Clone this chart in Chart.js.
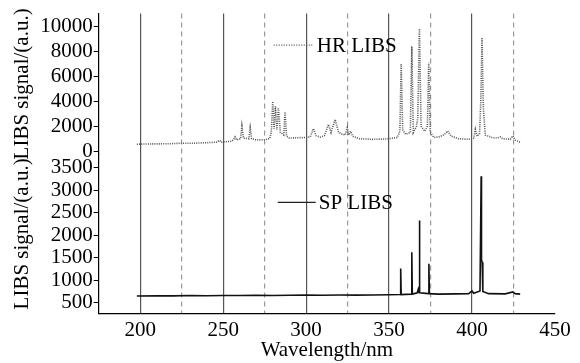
<!DOCTYPE html>
<html>
<head>
<meta charset="utf-8">
<script src="https://cdn.jsdelivr.net/npm/chart.js@4"></script>
<style>
  body { margin: 0; background: #fff; }
  #wrap { width: 580px; height: 363px; }
</style>
</head>
<body>
<div id="wrap"><canvas id="canvas1" width="580" height="363"></canvas></div>
<script>
// HR LIBS spectrum (top panel), wavelength nm / signal a.u.
const hrWave = [198, 205, 212, 218, 224, 232, 240, 246, 247.7, 249, 255, 256.3, 257.2, 258.2, 260.5, 261.3, 262.2, 265.5, 266.3, 267.2,
  270, 275, 278, 279, 279.9, 280.7, 281.5, 282.4, 283.3, 284.5, 286.5, 287.3, 288.2, 290, 295, 300, 302.5, 304.4, 306, 308.5,
  311, 313.5, 315, 317.5, 319.5, 321, 323.5, 324.8, 325.6, 326.8, 328, 332, 340, 348, 350, 355, 356.5, 357.3, 358.2, 360,
  362.8, 363.7, 364.6, 366.5, 367.3, 368.3, 369.3, 371.5, 373.1, 373.9, 374.8, 377, 380, 383, 385.3, 387.5, 392, 398, 401, 402,
  403, 404.5, 405.3, 406, 406.8, 408, 412, 415, 417, 418.5, 423, 424.6, 426, 429];
const hrSignal = [560, 580, 590, 600, 640, 640, 680, 720, 870, 730, 800, 900, 1140, 900, 1000, 2010, 1050, 1000, 1880, 1000,
  900, 920, 1000, 1500, 3990, 1800, 3600, 1700, 3460, 1500, 1300, 3150, 1200, 1050, 1080, 1100, 1150, 1800, 1250, 1130,
  1250, 2140, 1500, 2540, 1550, 1400, 1300, 1880, 1300, 1600, 1200, 1000, 950, 980, 1000, 1100, 1600, 6990, 1700, 1350,
  1500, 8400, 1500, 2000, 2700, 9820, 2000, 1600, 2000, 7090, 1500, 1100, 1150, 1300, 1610, 1200, 1000, 950, 1050, 1750,
  1200, 1400, 4000, 9100, 3500, 1300, 1100, 1050, 1150, 1000, 950, 1220, 900, 710];

// SP LIBS spectrum (bottom panel)
const spWave = [198, 210, 220, 230, 240, 250, 260, 270, 280, 290, 300, 310, 320, 330, 340, 350, 356.7, 357, 357.3, 363.4,
  363.7, 364, 367, 367.6, 368.1, 368.3, 368.5, 373.7, 374, 374.3, 380, 390, 398, 400, 401, 404.8, 405.5, 405.7, 406.1, 406.5,
  410, 420, 424.6, 426, 429];
const spSignal = [647, 655, 650, 660, 655, 660, 658, 662, 660, 665, 668, 665, 670, 668, 672, 675, 680, 1257, 680, 690,
  1618, 690, 720, 800, 720, 2324, 720, 700, 1367, 700, 690, 695, 700, 760, 710, 760, 3308, 1455, 1400, 750,
  700, 695, 740, 700, 690];

const xTicks = [200, 225, 250, 275, 300, 325, 350, 375, 400, 425, 450];
const hrTicks = [0, 2000, 4000, 6000, 8000, 10000];
const spTicks = [500, 1000, 1500, 2000, 2500, 3000, 3500];

const serif = "'Liberation Serif', 'Times New Roman', serif";

function toPoints(xs, ys) {
  return xs.map((x, i) => ({x: x, y: ys[i]}));
}

// legend texts drawn inside each panel
const panelLabels = {
  id: 'panelLabels',
  afterDatasetsDraw(chart) {
    const ctx = chart.ctx;
    const xs = chart.scales.x;
    const items = [
      {scale: chart.scales.yTop, y: 8500, x0: 280.5, x1: 304.6, tx: 306.4, text: 'HR LIBS', dash: [1, 1.5], color: '#555'},
      {scale: chart.scales.yBot, y: 2728, x0: 282.9, x1: 305.8, tx: 307.6, text: 'SP LIBS', dash: [], color: '#222'}
    ];
    ctx.save();
    items.forEach(it => {
      const py = it.scale.getPixelForValue(it.y);
      ctx.beginPath();
      ctx.setLineDash(it.dash);
      ctx.strokeStyle = it.color;
      ctx.lineWidth = 1.2;
      ctx.moveTo(xs.getPixelForValue(it.x0), py);
      ctx.lineTo(xs.getPixelForValue(it.x1), py);
      ctx.stroke();
      ctx.setLineDash([]);
      ctx.fillStyle = '#000';
      ctx.font = '21px ' + serif;
      ctx.textBaseline = 'middle';
      ctx.fillText(it.text, xs.getPixelForValue(it.tx), py + 1);
    });
    ctx.restore();
  }
};

const yTickOpts = {
  color: '#000',
  font: { family: serif, size: 21 },
  padding: 1,
  autoSkip: false,
  callback: v => String(v)
};
const yTitle = {
  display: true,
  text: 'LIBS signal/(a.u.)',
  color: '#000',
  font: { family: serif, size: 21 },
  padding: { top: 0, bottom: 4 }
};

new Chart(document.getElementById('canvas1'), {
  type: 'line',
  data: {
    datasets: [{
      label: 'HR LIBS',
      data: toPoints(hrWave, hrSignal),
      yAxisID: 'yTop',
      borderColor: '#555',
      borderWidth: 1.6,
      borderDash: [1, 1.2],
      pointRadius: 0,
      tension: 0,
      fill: false
    }, {
      label: 'SP LIBS',
      data: toPoints(spWave, spSignal),
      yAxisID: 'yBot',
      borderColor: '#111',
      borderWidth: 1.6,
      pointRadius: 0,
      tension: 0,
      fill: false
    }]
  },
  options: {
    responsive: false,
    animation: false,
    layout: { padding: { top: 8, right: 25, left: 10, bottom: 0 } },
    plugins: { legend: { display: false }, tooltip: { enabled: false } },
    scales: {
      x: {
        type: 'linear',
        min: 175,
        max: 450,
        afterBuildTicks: s => { s.ticks = xTicks.map(v => ({value: v})); },
        ticks: {
          color: '#000',
          font: { family: serif, size: 21 },
          padding: 4,
          maxRotation: 0,
          autoSkip: false,
          callback: v => (v % 50 === 0 ? String(v) : '')
        },
        grid: {
          drawTicks: false,
          color: c => {
            const v = c.tick ? c.tick.value : 0;
            if (v >= 450) return 'rgba(0,0,0,0)';
            return v % 50 === 0 ? '#555' : '#999';
          },
          lineWidth: 1.2
        },
        border: {
          display: true,
          color: '#000',
          width: 1.2,
          dash: c => (c.tick && c.tick.value % 50 !== 0 ? [5, 4] : [])
        },
        title: {
          display: true,
          text: 'Wavelength/nm',
          color: '#000',
          font: { family: serif, size: 21 },
          padding: { top: -9, bottom: 0 }
        }
      },
      yBot: {
        type: 'linear',
        position: 'left',
        stack: 'sig',
        stackWeight: 161,
        min: 257,
        max: 3800,
        afterBuildTicks: s => { s.ticks = spTicks.map(v => ({value: v})); },
        ticks: yTickOpts,
        grid: { drawOnChartArea: false, tickLength: 5, tickColor: '#000' },
        border: { color: '#000', width: 1.2 },
        title: yTitle
      },
      yTop: {
        type: 'linear',
        position: 'left',
        stack: 'sig',
        stackWeight: 142,
        min: -240,
        max: 11030,
        afterBuildTicks: s => { s.ticks = hrTicks.map(v => ({value: v})); },
        ticks: yTickOpts,
        grid: { drawOnChartArea: false, tickLength: 5, tickColor: '#000' },
        border: { color: '#000', width: 1.2 },
        title: yTitle
      }
    }
  },
  plugins: [panelLabels]
});
</script>
</body>
</html>
